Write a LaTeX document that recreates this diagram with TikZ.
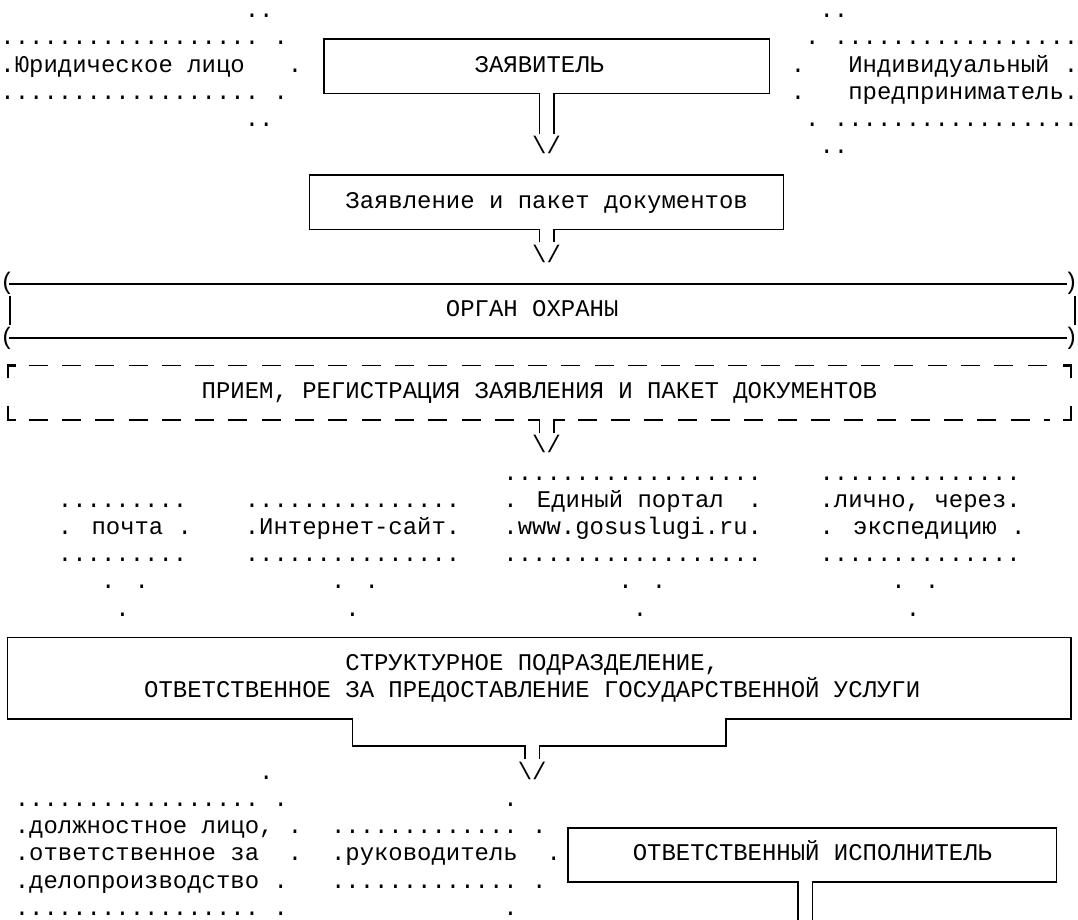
\documentclass[tikz,border=0pt]{standalone}
\usepackage{fontspec}
\newfontfamily\monofont{Liberation Mono}
\usetikzlibrary{calc}
\newcommand\gridw{14.37}
\newcommand\gridx{0.5}
\newcommand\colL[1]{(\gridx+\gridw*(#1))}
\newcommand\colC[1]{(\gridx+\gridw*(#1+0.5))}
\newcommand\rowB[1]{(17.6+27.2*(#1))}
\newcommand\rowY[1]{(11.8+27.2*(#1))}
\newcommand\tx[4]{\node[txt] (#1) at ({\colL{#2}},{\rowB{#3}}) {#4};}
\ExplSyntaxOn
\cs_new:Npn \dotrun #1 {\prg_replicate:nn {#1} {.}}
\ExplSyntaxOff
\tikzset{
  txt/.style={anchor=base west, inner sep=0pt, outer sep=0pt, font=\monofont\fontsize{23.95pt}{27.2pt}\selectfont},
  bl/.style={line width=1.5pt, line join=miter},
  dl/.style={line width=1.5pt, dash pattern=on 19pt off 14.3pt},
  cl/.style={line width=2.2pt, line join=miter},
  vbar/.style={line width=2pt},
}
\begin{document}
\begin{tikzpicture}[x=1pt,y=-1pt]
\useasboundingbox (0,0) rectangle (1078,919);
% ---------- top rows ----------
\tx{a0l}{17}{0}{..}
\tx{a0r}{57}{0}{..}
\tx{a1l}{0}{1}{\dotrun{18}}
\tx{a1m}{19}{1}{.}
\tx{a1n}{56}{1}{.}
\tx{a1r}{58}{1}{\dotrun{17}}
\tx{yur}{0}{2}{.Юридическое лицо}
\tx{a2m}{20}{2}{.}
\tx{zaytxt}{33}{2}{ЗАЯВИТЕЛЬ}
\tx{a2n}{55}{2}{.}
\tx{ind1}{59}{2}{Индивидуальный .}
\tx{a3l}{0}{3}{\dotrun{18}}
\tx{a3m}{19}{3}{.}
\tx{a3n}{55}{3}{.}
\tx{ind2}{59}{3}{предприниматель.}
\tx{a4l}{17}{4}{..}
\tx{a4n}{56}{4}{.}
\tx{a4r}{58}{4}{\dotrun{17}}
\tx{arrA}{37}{5}{\textbackslash/}
\tx{a5r}{57}{5}{..}
% box ZAYAVITEL
\coordinate (zNW) at ({\colC{22}},{\rowY{1}});
\coordinate (zNE) at ({\colC{53}},{\rowY{1}});
\coordinate (zSW) at ({\colC{22}},{\rowY{3}});
\coordinate (zSE) at ({\colC{53}},{\rowY{3}});
\coordinate (zCL) at ({\colC{37}},{\rowY{3}});
\coordinate (zCR) at ({\colC{38}},{\rowY{3}});
\coordinate (zEL) at ({\colC{37}},133.6);
\coordinate (zER) at ({\colC{38}},133.6);
\draw[bl] (zEL) -- (zCL) -- (zSW) -- (zNW) -- (zNE) -- (zSE) -- (zCR) -- (zER);
% box Zayavlenie
\tx{zayavl}{24}{7}{Заявление и пакет документов}
\coordinate (pNW) at ({\colC{21}},{\rowY{6}});
\coordinate (pNE) at ({\colC{54}},{\rowY{6}});
\coordinate (pSW) at ({\colC{21}},{\rowY{8}});
\coordinate (pSE) at ({\colC{54}},{\rowY{8}});
\coordinate (pCL) at ({\colC{37}},{\rowY{8}});
\coordinate (pCR) at ({\colC{38}},{\rowY{8}});
\coordinate (pEL) at ({\colC{37}},242.4);
\coordinate (pER) at ({\colC{38}},242.4);
\draw[bl] (pEL) -- (pCL) -- (pSW) -- (pNW) -- (pNE) -- (pSE) -- (pCR) -- (pER);
\tx{arrB}{37}{9}{\textbackslash/}
% ORGAN OKHRANY
\node[txt] (par1) at (0,{\rowB{10}}) {(};
\node[txt] (par2) at ({\colL{74}},{\rowB{10}}) {)};
\node[txt] (par3) at (0,{\rowB{12}}) {(};
\node[txt] (par4) at ({\colL{74}},{\rowB{12}}) {)};
\coordinate (oT1) at (9,{\rowY{10}});
\coordinate (oT2) at (1067,{\rowY{10}});
\coordinate (oB1) at (9,{\rowY{12}});
\coordinate (oB2) at (1067,{\rowY{12}});
\draw[bl] (oT1) -- (oT2);
\draw[bl] (oB1) -- (oB2);
\coordinate (oL1) at (10,296);
\coordinate (oL2) at (10,325);
\coordinate (oR1) at (1074.5,296);
\coordinate (oR2) at (1074.5,325);
\draw[vbar] (oL1) -- (oL2);
\draw[vbar] (oR1) -- (oR2);
\tx{organ}{31}{11}{ОРГАН ОХРАНЫ}
% dashed box PRIEM
\tx{priem}{14}{14}{ПРИЕМ, РЕГИСТРАЦИЯ ЗАЯВЛЕНИЯ И ПАКЕТ ДОКУМЕНТОВ}
\coordinate (q1) at ({\colC{0}},{\rowY{13}});
\coordinate (q2) at ({\colC{74}},{\rowY{13}});
\coordinate (q3) at ({\colC{0}},{\rowY{15}});
\coordinate (q4) at ({\colC{74}},{\rowY{15}});
\draw[cl] ($(q1)+(0,13)$) -- (q1) -- ++(8,0);
\draw[cl] ($(q2)+(0,13)$) -- (q2) -- ++(-8,0);
\draw[cl] ($(q3)+(0,-14)$) -- (q3) -- ++(8,0);
\draw[cl] ($(q4)+(0,-14)$) -- (q4) -- ++(-8,0);
\coordinate (dCL) at ({\colC{37}},{\rowY{15}});
\coordinate (dCR) at ({\colC{38}},{\rowY{15}});
\coordinate (dEL) at ({\colC{37}},432.8);
\coordinate (dER) at ({\colC{38}},432.8);
\draw[dl] ($(q1)+(21,0)$) -- ($(q2)+(-21,0)$);
\draw[dl] ($(q3)+(21,0)$) -- ($(dCL)+(-11,0)$);
\draw[dl] ($(dCR)+(24,0)$) -- ($(q4)+(-21,0)$);
\draw[bl] ($(dCL)+(-11,0)$) -- (dCL) -- (dEL);
\draw[bl] ($(dCR)+(11,0)$) -- (dCR) -- (dER);
\tx{arrC}{37}{16}{\textbackslash/}
% channels
\tx{e0}{35}{17}{\dotrun{18}}
\tx{l0}{57}{17}{\dotrun{14}}
\tx{p0}{4}{18}{\dotrun{9}}
\tx{i0}{17}{18}{\dotrun{15}}
\tx{e1a}{35}{18}{. Единый портал}
\tx{e1c}{52}{18}{.}
\tx{l1}{57}{18}{.лично, через.}
\tx{p1}{4}{19}{. почта .}
\tx{i1}{17}{19}{.Интернет-сайт.}
\tx{e2}{35}{19}{.www.gosuslugi.ru.}
\tx{l2}{57}{19}{. экспедицию .}
\tx{p2}{4}{20}{\dotrun{9}}
\tx{i2}{17}{20}{\dotrun{15}}
\tx{e3}{35}{20}{\dotrun{18}}
\tx{l3}{57}{20}{\dotrun{14}}
\tx{p3}{7}{21}{. .}
\tx{i3}{23}{21}{. .}
\tx{e4}{43}{21}{. .}
\tx{l4}{62}{21}{. .}
\tx{p4}{8}{22}{.}
\tx{i4}{24}{22}{.}
\tx{e5}{44}{22}{.}
\tx{l5}{63}{22}{.}
% structural unit
\tx{str1}{24}{24}{СТРУКТУРНОЕ ПОДРАЗДЕЛЕНИЕ,}
\tx{str2}{10}{25}{ОТВЕТСТВЕННОЕ ЗА ПРЕДОСТАВЛЕНИЕ ГОСУДАРСТВЕННОЙ УСЛУГИ}
\coordinate (sEL) at ({\colC{36}},759.2);
\coordinate (sER) at ({\colC{37}},759.2);
\draw[bl] (sEL) -- ({\colC{36}},{\rowY{27}}) -- ({\colC{24}},{\rowY{27}})
  -- ({\colC{24}},{\rowY{26}}) -- ({\colC{0}},{\rowY{26}})
  -- ({\colC{0}},{\rowY{23}}) -- ({\colC{74}},{\rowY{23}})
  -- ({\colC{74}},{\rowY{26}}) -- ({\colC{50}},{\rowY{26}})
  -- ({\colC{50}},{\rowY{27}}) -- ({\colC{37}},{\rowY{27}}) -- (sER);
\tx{b28}{18}{28}{.}
\tx{arrD}{36}{28}{\textbackslash/}
% bottom rows
\tx{d29a}{1}{29}{\dotrun{17}}
\tx{d29b}{19}{29}{.}
\tx{d29c}{35}{29}{.}
\tx{dl1}{1}{30}{.должностное лицо, .}
\tx{r30a}{23}{30}{\dotrun{13}}
\tx{r30b}{37}{30}{.}
\tx{dl2}{1}{31}{.ответственное за}
\tx{d31a}{20}{31}{.}
\tx{ruk}{23}{31}{.руководитель}
\tx{d31b}{38}{31}{.}
\tx{dl3}{1}{32}{.делопроизводство .}
\tx{r32a}{23}{32}{\dotrun{13}}
\tx{r32b}{37}{32}{.}
\tx{d33a}{1}{33}{\dotrun{17}}
\tx{d33b}{19}{33}{.}
\tx{d33c}{35}{33}{.}
% responsible executor
\tx{otv}{44}{31}{ОТВЕТСТВЕННЫЙ ИСПОЛНИТЕЛЬ}
\coordinate (xNW) at ({\colC{39}},{\rowY{30}});
\coordinate (xNE) at ({\colC{73}},{\rowY{30}});
\coordinate (xSW) at ({\colC{39}},{\rowY{32}});
\coordinate (xSE) at ({\colC{73}},{\rowY{32}});
\coordinate (xCL) at ({\colC{55}},{\rowY{32}});
\coordinate (xCR) at ({\colC{56}},{\rowY{32}});
\coordinate (xEL) at ({\colC{55}},925);
\coordinate (xER) at ({\colC{56}},925);
\draw[bl] (xEL) -- (xCL) -- (xSW) -- (xNW) -- (xNE) -- (xSE) -- (xCR) -- (xER);
\end{tikzpicture}
\end{document}
